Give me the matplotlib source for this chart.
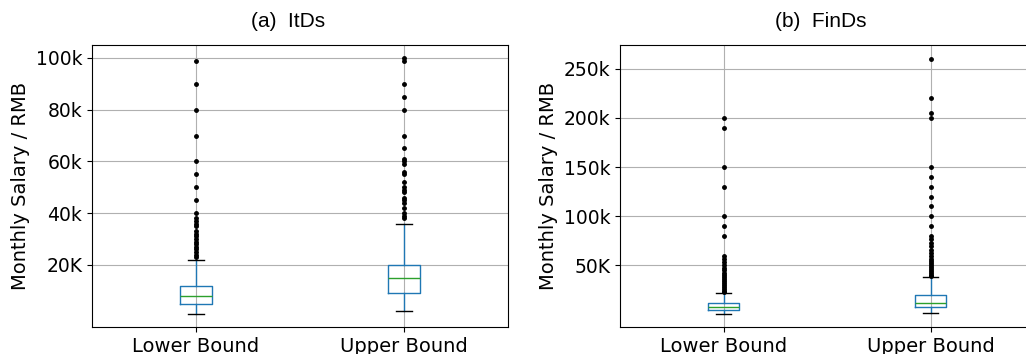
import numpy as np
import matplotlib
matplotlib.use("Agg")
import matplotlib.pyplot as plt

labels = ["Lower Bound", "Upper Bound"]

# ItDs box stats (RMB)
itds_q1 = [5000, 9000]
itds_med = [8000, 15000]
itds_q3 = [12000, 20000]
itds_lo = [1000, 2000]
itds_hi = [22000, 36000]
itds_fliers_low = [99000, 90000, 80000, 70000, 60000, 55000, 50000, 45000, 40000,
                   38000, 37000, 36000, 35000, 33000, 32000, 31000, 30000, 29000,
                   28000, 27000, 26000, 25000, 24000, 23000]
itds_fliers_up = [100000, 99000, 90000, 85000, 80000, 70000, 65000, 61000, 60000,
                  59000, 56000, 55000, 52000, 50000, 49000, 48000, 46000, 45000,
                  44000, 42000, 40000, 39000, 38000]

# FinDs box stats (RMB)
finds_q1 = [5000, 8000]
finds_med = [8000, 12000]
finds_q3 = [12000, 20000]
finds_lo = [1000, 2000]
finds_hi = [22000, 38000]
finds_fliers_low = [200000, 190000, 150000, 130000, 100000, 90000, 80000, 60000,
                    57000, 54000, 50000, 47000, 45000, 42000, 40000, 38000, 36000,
                    34000, 32000, 30000, 28000, 26000, 24000, 23000]
finds_fliers_up = [260000, 220000, 205000, 200000, 150000, 140000, 130000, 120000,
                   110000, 100000, 90000, 80000, 77000, 73000, 70000, 66000, 63000,
                   60000, 57000, 55000, 53000, 50000, 48000, 46000, 44000, 42000,
                   40000, 39000]

itds_ticks = [20000, 40000, 60000, 80000, 100000]
itds_ticklabels = ["20K", "40k", "60k", "80k", "100k"]
finds_ticks = [50000, 100000, 150000, 200000, 250000]
finds_ticklabels = ["50K", "100k", "150k", "200k", "250k"]


def make_stats(q1, med, q3, lo, hi, fliers):
    out = []
    for i in range(len(labels)):
        out.append(dict(label=labels[i], q1=q1[i], med=med[i], q3=q3[i],
                        whislo=lo[i], whishi=hi[i], fliers=fliers[i]))
    return out


def draw(ax, stats, ticks, ticklabels, ylim, title, tx):
    ax.bxp(stats, widths=0.15,
           boxprops=dict(color="#1f77b4"),
           whiskerprops=dict(color="#1f77b4"),
           capprops=dict(color="black"),
           medianprops=dict(color="#2ca02c"),
           flierprops=dict(marker="o", markersize=2.5, markerfacecolor="black",
                           markeredgecolor="black"))
    ax.set_xlim(0.5, 2.5)
    ax.set_ylim(*ylim)
    ax.set_yticks(ticks)
    ax.set_yticklabels(ticklabels, fontsize=13.5)
    ax.tick_params(axis="x", labelsize=14)
    ax.grid(True, color="#b0b0b0", linewidth=0.8)
    ax.set_axisbelow(True)
    ax.set_ylabel("Monthly Salary / RMB", fontsize=14)
    ax.text(tx, 1.085, title, transform=ax.transAxes, ha="center", va="center",
            fontsize=15, family="Liberation Sans")


fig = plt.figure(figsize=(10.26, 3.54), dpi=100)
ax1 = fig.add_axes([92 / 1026, 27 / 354, 416 / 1026, 282 / 354])
ax2 = fig.add_axes([620 / 1026, 27 / 354, 414 / 1026, 282 / 354])

draw(ax1, make_stats(itds_q1, itds_med, itds_q3, itds_lo, itds_hi,
                     [itds_fliers_low, itds_fliers_up]),
     itds_ticks, itds_ticklabels, (-4000, 105000), "(a)  ItDs", 0.472)
draw(ax2, make_stats(finds_q1, finds_med, finds_q3, finds_lo, finds_hi,
                     [finds_fliers_low, finds_fliers_up]),
     finds_ticks, finds_ticklabels, (-12500, 274000), "(b)  FinDs", 0.486)

fig.savefig("out.png", dpi=100)
